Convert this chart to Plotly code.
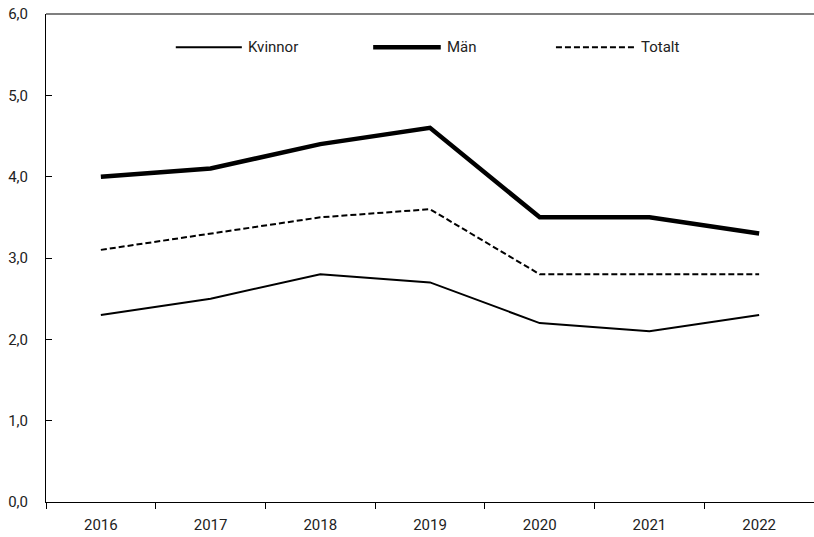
import plotly.graph_objects as go

years = ["2016", "2017", "2018", "2019", "2020", "2021", "2022"]
kvinnor = [2.3, 2.5, 2.8, 2.7, 2.2, 2.1, 2.3]
man = [4.0, 4.1, 4.4, 4.6, 3.5, 3.5, 3.3]
totalt = [3.1, 3.3, 3.5, 3.6, 2.8, 2.8, 2.8]
y_ticks = [0, 1, 2, 3, 4, 5, 6]

FONT = "Roboto, Liberation Sans, sans-serif"
TXT = "#222"

series = [
    ("Kvinnor", kvinnor, dict(color="black", width=2)),
    ("Män", man, dict(color="black", width=4.5)),
    ("Totalt", totalt, dict(color="black", width=2, dash="6px,3px")),
]

fig = go.Figure()
for name, vals, ln in series:
    fig.add_trace(go.Scatter(x=years, y=vals, name=name, mode="lines", line=ln,
                             hoverinfo="skip"))

# manual legend (paper coordinates) to match long legend sample lines
legend_pos = [(0.169, 0.255), (0.426, 0.514), (0.664, 0.766)]
leg_y = 0.932
shapes = [dict(type="line", xref="paper", yref="paper", x0=0, x1=1, y0=1, y1=1,
               line=dict(color="#555", width=1.5))]
anns = []
for (name, _, ln), (x0, x1) in zip(series, legend_pos):
    shapes.append(dict(type="line", xref="paper", yref="paper", x0=x0, x1=x1,
                       y0=leg_y, y1=leg_y, line=ln))
    anns.append(dict(xref="paper", yref="paper", x=x1 + 0.006, y=leg_y, xanchor="left",
                     yanchor="middle", showarrow=False, text=name,
                     font=dict(family=FONT, size=15, color=TXT)))

fig.update_layout(
    width=814, height=537,
    margin=dict(l=46, r=0, t=14, b=35),
    paper_bgcolor="white", plot_bgcolor="white",
    font=dict(family=FONT, size=15, color=TXT),
    showlegend=False,
    xaxis=dict(type="category", range=[-0.5, 6.5], showgrid=False, automargin=False,
               showline=True, linecolor="black", linewidth=1,
               tickson="boundaries", ticks="outside", ticklen=6, tickcolor="black",
               ticklabelstandoff=9, zeroline=False),
    yaxis=dict(range=[0, 6], tickvals=y_ticks, tickformat=".1f", showgrid=False, automargin=False,
               showline=True, linecolor="black", linewidth=1,
               ticks="inside", ticklen=6, tickcolor="black", ticklabelstandoff=14,
               zeroline=False),
    separators=",.",
    shapes=shapes,
    annotations=anns,
)

fig.write_html("out.html", config={"displayModeBar": False, "staticPlot": True},
               post_script="document.body.style.margin='0';")
